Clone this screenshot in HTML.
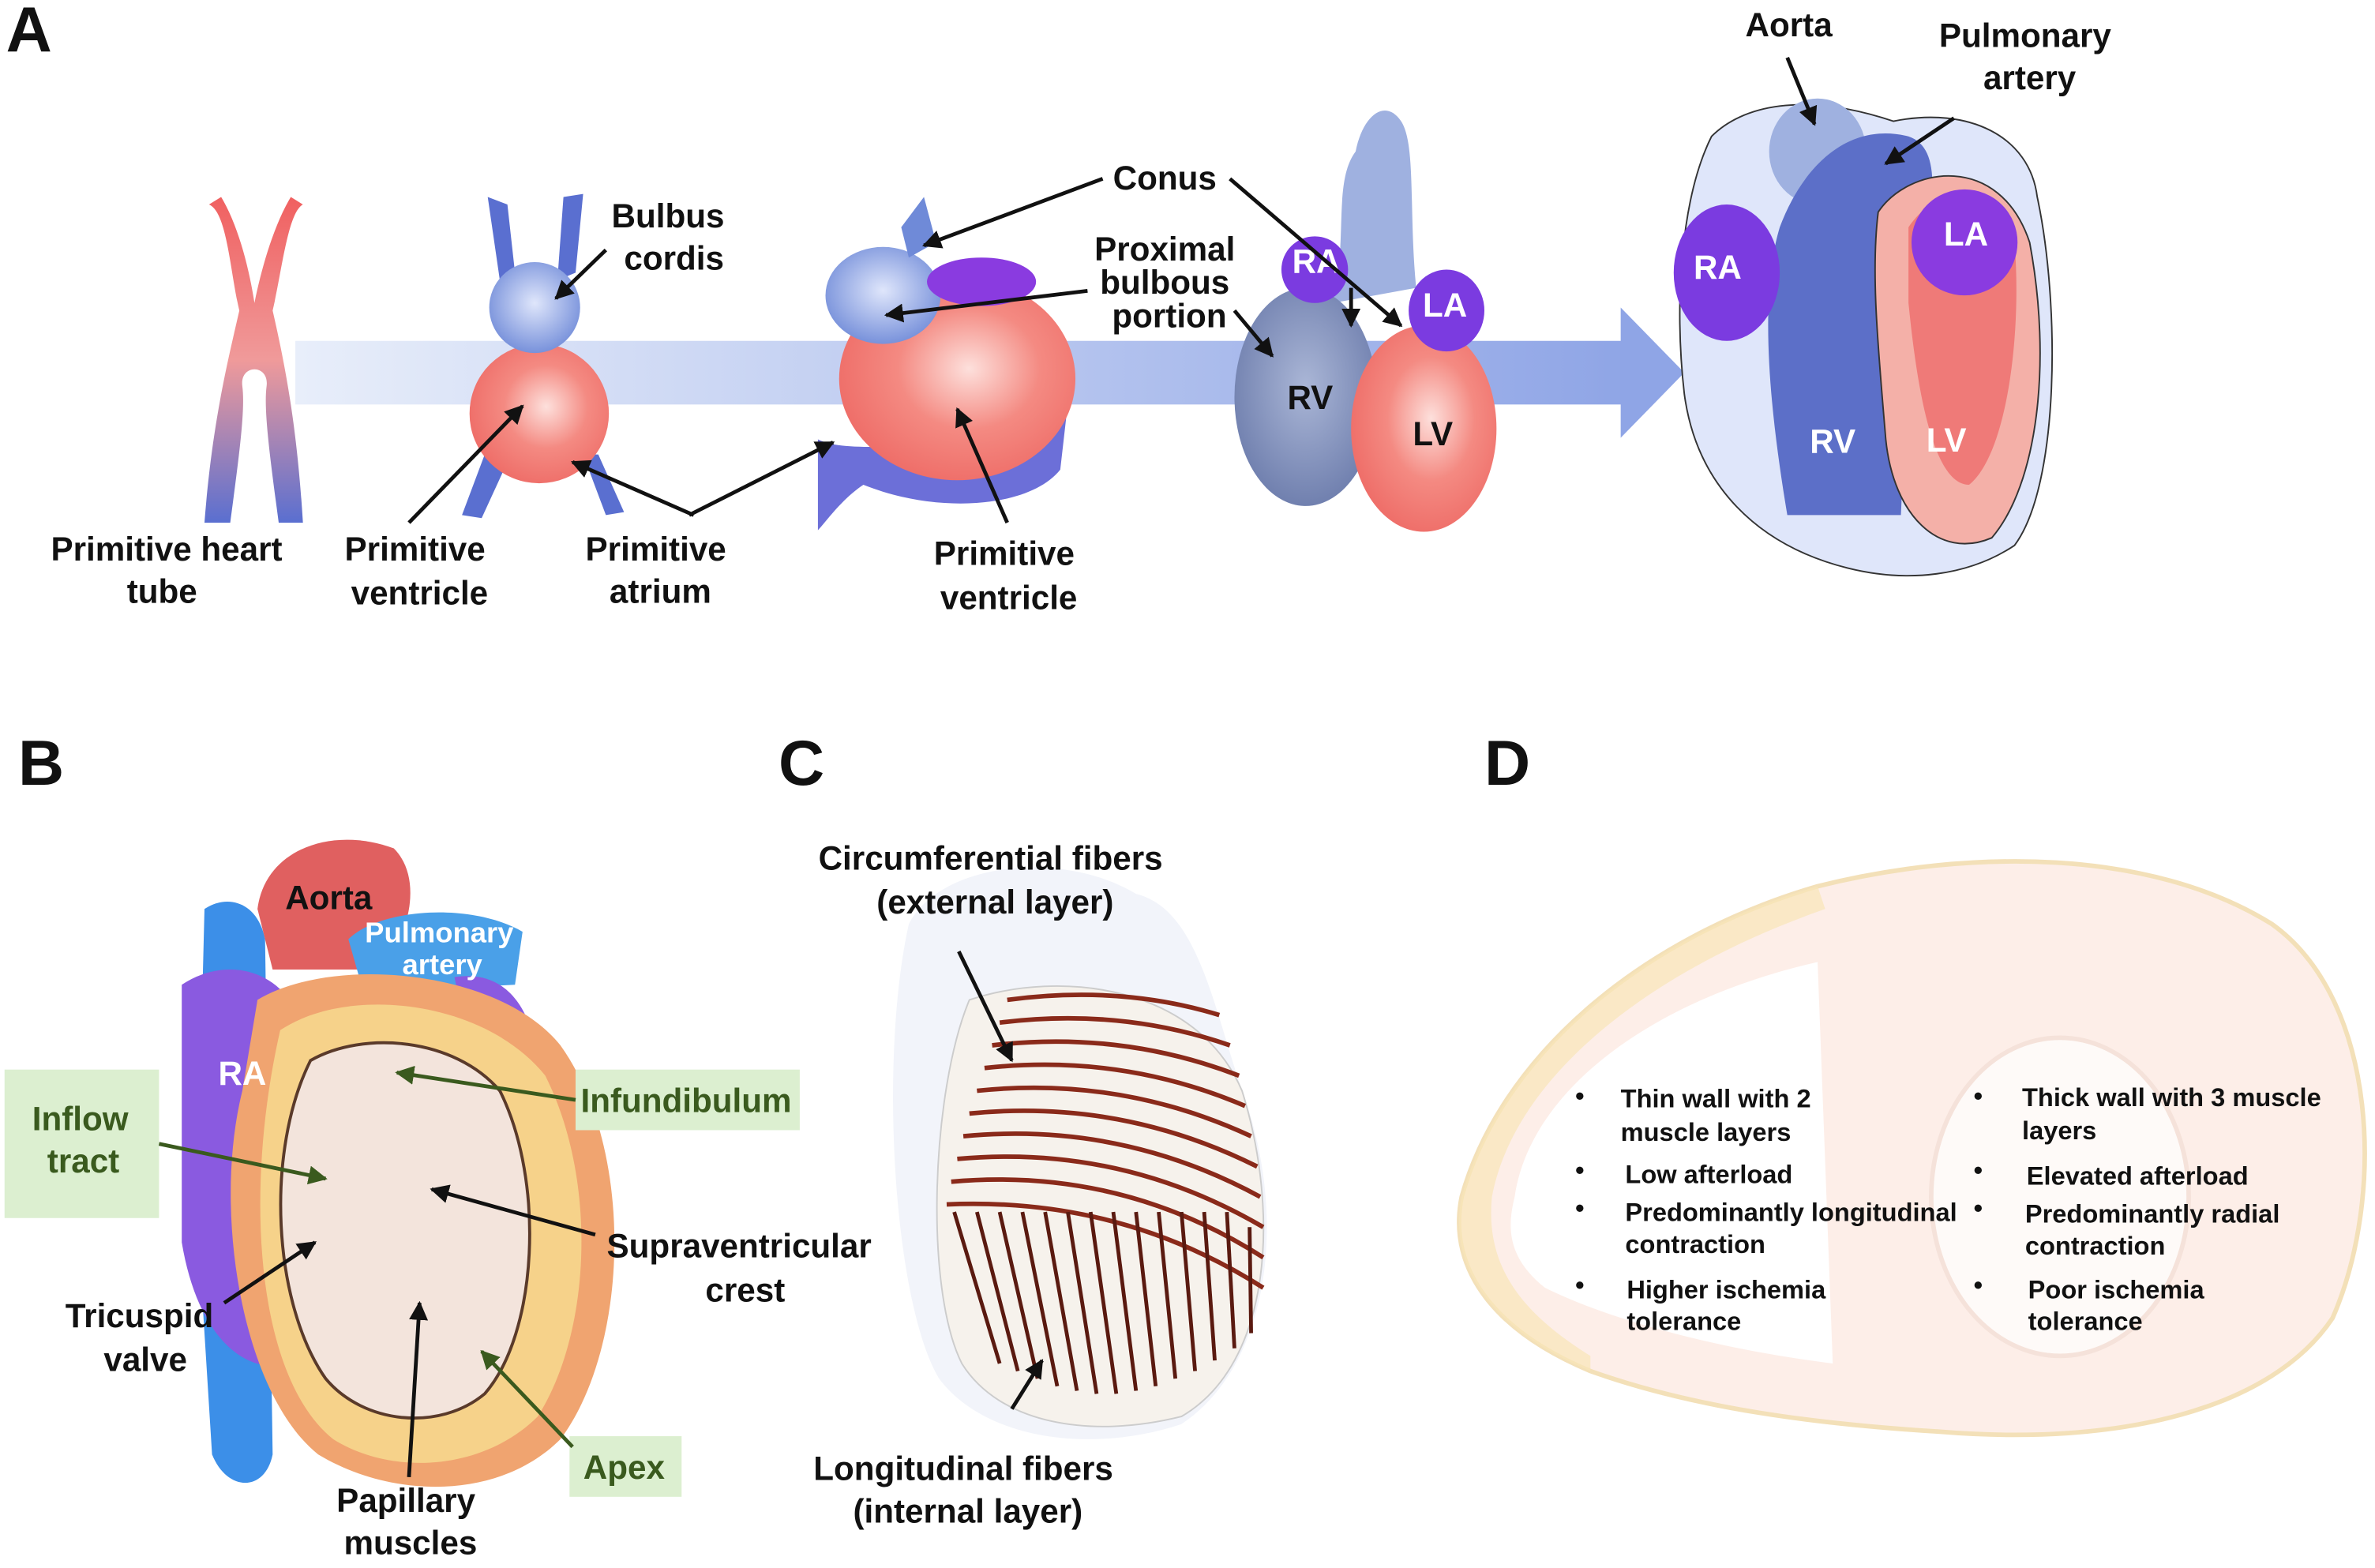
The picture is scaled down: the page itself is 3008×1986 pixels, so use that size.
<!DOCTYPE html>
<html><head><meta charset="utf-8"><style>
html,body{margin:0;padding:0;background:#fff}
svg{display:block}
text{font-family:"Liberation Sans",Arial,sans-serif;font-weight:bold;fill:#111}
</style></head><body>
<svg width="3008" height="1986" viewBox="0 0 1568 1035" preserveAspectRatio="none" xmlns="http://www.w3.org/2000/svg">
<defs>
<linearGradient id="band" x1="0" x2="1"><stop offset="0" stop-color="#e8eefa"/><stop offset="1" stop-color="#8fa5e6"/></linearGradient>
<linearGradient id="tube" x1="0" y1="0" x2="0" y2="1"><stop offset="0" stop-color="#f06060"/><stop offset="0.5" stop-color="#f09a9a"/><stop offset="1" stop-color="#5a6fd0"/></linearGradient>
<radialGradient id="sal" cx="0.55" cy="0.45" r="0.6"><stop offset="0" stop-color="#fde0dc"/><stop offset="0.5" stop-color="#f48a82"/><stop offset="1" stop-color="#ee6b66"/></radialGradient>
<radialGradient id="blu" cx="0.5" cy="0.45" r="0.6"><stop offset="0" stop-color="#dfe6fb"/><stop offset="1" stop-color="#6f8ad8"/></radialGradient>
<radialGradient id="rv" cx="0.5" cy="0.45" r="0.6"><stop offset="0" stop-color="#aab6d6"/><stop offset="1" stop-color="#6b7bab"/></radialGradient>
<marker id="ar" viewBox="0 0 10 10" refX="9" refY="5" markerWidth="5" markerHeight="5" orient="auto"><path d="M0,0L10,5L0,10z" fill="#111"/></marker>
<marker id="ag" viewBox="0 0 10 10" refX="9" refY="5" markerWidth="5" markerHeight="5" orient="auto"><path d="M0,0L10,5L0,10z" fill="#3a5a1e"/></marker>
</defs>

<text x="4" y="34" font-size="42">A</text>
<text x="12" y="518" font-size="42">B</text>
<text x="514" y="518" font-size="42">C</text>
<text x="980" y="518" font-size="42">D</text>

<rect x="195" y="225" width="880" height="42" fill="url(#band)"/>
<path d="M1070,203 L1112,246 L1070,289 Z" fill="#8fa5e6"/>

<path d="M138,135 C150,140 152,180 158,205 C150,240 140,280 135,345 L152,345 C158,300 162,270 160,255 C158,240 178,240 176,255 C174,270 178,300 184,345 L200,345 C196,280 188,240 180,205 C186,180 190,140 200,135 L192,130 C180,150 172,180 168,200 C165,180 158,150 146,130 Z" fill="url(#tube)"/>

<path d="M322,130 L335,135 L340,180 L330,185 Z" fill="#5a6fd0"/>
<path d="M372,130 L385,128 L380,180 L368,185 Z" fill="#5a6fd0"/>
<path d="M320,300 L305,340 L318,342 L335,305 Z" fill="#5a6fd0"/>
<path d="M385,300 L400,340 L412,338 L395,300 Z" fill="#5a6fd0"/>
<circle cx="356" cy="273" r="46" fill="url(#sal)"/>
<circle cx="353" cy="203" r="30" fill="url(#blu)"/>

<path d="M540,290 C560,300 600,290 650,300 C690,300 712,270 708,240 L700,310 C680,335 620,340 570,320 C555,330 545,345 540,350 Z" fill="#6c6fd8"/>
<ellipse cx="632" cy="250" rx="78" ry="67" fill="url(#sal)"/>
<ellipse cx="583" cy="195" rx="38" ry="32" fill="url(#blu)"/>
<path d="M595,150 L610,130 L618,160 L600,170 Z" fill="#6f8ad8"/>
<ellipse cx="648" cy="186" rx="36" ry="16" fill="#8a3be0"/>

<path d="M880,200 C890,160 880,120 895,100 C900,75 915,65 925,80 C935,95 930,140 935,190 Z" fill="#9fb1e0"/>
<ellipse cx="862" cy="262" rx="47" ry="72" fill="url(#rv)"/>
<ellipse cx="940" cy="283" rx="48" ry="68" fill="url(#sal)"/>
<ellipse cx="868" cy="178" rx="22" ry="22" fill="#7b3be0"/>
<ellipse cx="955" cy="205" rx="25" ry="27" fill="#7b3be0"/>

<path d="M1130,90 C1150,70 1190,60 1250,80 C1300,70 1340,90 1345,130 C1360,200 1360,320 1330,360 C1300,380 1260,385 1220,375 C1160,360 1120,320 1112,260 C1105,200 1110,130 1130,90 Z" fill="#dfe6fa" stroke="#333" stroke-width="1"/>
<ellipse cx="1200" cy="100" rx="32" ry="35" fill="#9fb1e0"/>
<path d="M1175,150 C1190,110 1220,80 1260,90 C1290,100 1270,160 1260,230 L1255,340 L1180,340 C1170,280 1160,200 1175,150 Z" fill="#5c6fc8"/>
<path d="M1240,140 C1260,110 1320,100 1340,160 C1355,240 1345,320 1315,355 C1280,370 1250,340 1245,290 C1240,230 1235,180 1240,140 Z" fill="#f4b0a8" stroke="#333" stroke-width="1"/>
<path d="M1260,150 C1280,120 1320,120 1330,160 C1335,220 1325,300 1300,320 C1275,320 1265,250 1260,200 Z" fill="#ef7a78"/>
<ellipse cx="1297" cy="160" rx="35" ry="35" fill="#8a3be0"/>
<ellipse cx="1140" cy="180" rx="35" ry="45" fill="#7b3be0"/>

<g font-size="22" text-anchor="middle">
<text x="110" y="370">Primitive heart</text><text x="107" y="398">tube</text>
<text x="441" y="150">Bulbus</text><text x="445" y="178">cordis</text>
<text x="274" y="370">Primitive</text><text x="277" y="399">ventricle</text>
<text x="433" y="370">Primitive</text><text x="436" y="398">atrium</text>
<text x="663" y="373">Primitive</text><text x="666" y="402">ventricle</text>
<text x="769" y="125">Conus</text>
<text x="769" y="172">Proximal</text><text x="769" y="194">bulbous</text><text x="772" y="216">portion</text>
<text x="1181" y="24">Aorta</text>
<text x="1337" y="31">Pulmonary</text><text x="1340" y="59">artery</text>
<text x="865" y="270">RV</text>
<text x="946" y="294">LV</text>
<text x="869" y="180" style="fill:#fff">RA</text>
<text x="954" y="209" style="fill:#fff">LA</text>
<text x="1134" y="184" style="fill:#fff">RA</text>
<text x="1298" y="162" style="fill:#fff">LA</text>
<text x="1210" y="299" style="fill:#fff">RV</text>
<text x="1285" y="298" style="fill:#fff">LV</text>
</g>
<g stroke="#111" stroke-width="2.5" fill="none" marker-end="url(#ar)">
<line x1="400" y1="165" x2="367" y2="197"/>
<line x1="270" y1="345" x2="345" y2="268"/>
<line x1="458" y1="340" x2="378" y2="305"/>
<line x1="455" y1="340" x2="550" y2="292"/>
<line x1="665" y1="345" x2="632" y2="270"/>
<line x1="728" y1="118" x2="610" y2="162"/>
<line x1="812" y1="118" x2="925" y2="215"/>
<line x1="718" y1="192" x2="585" y2="208"/>
<line x1="815" y1="205" x2="840" y2="235"/>
<line x1="892" y1="190" x2="892" y2="215"/>
<line x1="1180" y1="38" x2="1198" y2="82"/>
<line x1="1290" y1="78" x2="1245" y2="108"/>
</g>

<path d="M135,600 C150,590 170,595 175,620 L180,960 C175,985 150,985 140,960 L130,800 Z" fill="#3c8fe8"/>
<path d="M120,650 C150,630 190,640 200,680 L195,900 C160,910 130,880 120,820 Z" fill="#8a5ae0"/>
<path d="M170,600 C175,560 220,545 260,560 C280,580 270,620 250,640 L180,640 Z" fill="#e06060"/>
<path d="M230,620 C250,600 310,595 345,615 L340,650 L240,655 Z" fill="#4aa0e8"/>
<path d="M300,645 C330,640 350,660 355,700 L340,720 L310,690 Z" fill="#8a5ae0"/>
<path d="M170,660 C220,630 330,640 370,690 C420,760 415,890 370,950 C330,990 260,990 210,960 C160,920 140,800 160,720 Z" fill="#f0a470"/>
<path d="M185,680 C230,650 320,660 360,710 C395,780 390,880 355,935 C320,970 260,975 220,950 C170,910 160,790 185,680 Z" fill="#f6d28a"/>
<path d="M205,700 C240,680 300,685 330,720 C360,780 355,880 320,920 C290,945 240,940 215,910 C180,860 175,760 205,700 Z" fill="#f3e4dc" stroke="#5a3a2a" stroke-width="2"/>
<rect x="3" y="706" width="102" height="98" fill="#dcefd0"/>
<rect x="380" y="706" width="148" height="40" fill="#dcefd0"/>
<rect x="376" y="948" width="74" height="40" fill="#dcefd0"/>
<g font-size="22" text-anchor="middle">
<text x="217" y="600">Aorta</text>
<text x="290" y="622" style="fill:#fff" font-size="19">Pulmonary</text>
<text x="292" y="643" style="fill:#fff" font-size="19">artery</text>
<text x="160" y="716" style="fill:#fff">RA</text>
<text x="53" y="746" style="fill:#3a5a1e">Inflow</text><text x="55" y="774" style="fill:#3a5a1e">tract</text>
<text x="453" y="734" style="fill:#3a5a1e">Infundibulum</text>
<text x="412" y="976" style="fill:#3a5a1e">Apex</text>
<text x="488" y="830">Supraventricular</text><text x="492" y="859">crest</text>
<text x="92" y="876">Tricuspid</text><text x="96" y="905">valve</text>
<text x="268" y="998">Papillary</text><text x="271" y="1026">muscles</text>
</g>
<g stroke="#3a5a1e" stroke-width="2.5" marker-end="url(#ag)">
<line x1="105" y1="755" x2="215" y2="778"/>
<line x1="380" y1="726" x2="262" y2="708"/>
<line x1="378" y1="955" x2="318" y2="892"/>
</g>
<g stroke="#111" stroke-width="2.5" marker-end="url(#ar)">
<line x1="393" y1="815" x2="285" y2="785"/>
<line x1="148" y1="860" x2="208" y2="820"/>
<line x1="270" y1="975" x2="277" y2="860"/>
</g>

<path d="M600,610 C620,570 700,560 750,590 C790,600 800,660 820,720 C850,800 840,900 780,940 C720,960 650,950 620,910 C590,860 580,700 600,610 Z" fill="#f2f4fa"/>
<path d="M640,660 C700,640 790,650 820,720 C845,800 840,900 780,935 C720,950 660,940 635,900 C610,850 615,720 640,660 Z" fill="#f6f2ec" stroke="#ccc" stroke-width="1"/>
<g stroke="#8a2a1a" stroke-width="3" fill="none">
<path d="M665,660 Q740,650 805,670"/><path d="M660,675 Q740,665 812,690"/><path d="M655,690 Q740,680 818,710"/>
<path d="M650,705 Q740,695 822,730"/><path d="M645,720 Q740,710 826,750"/><path d="M640,735 Q740,725 830,770"/>
<path d="M636,750 Q740,740 832,790"/><path d="M632,765 Q740,755 834,810"/><path d="M628,780 Q740,770 834,830"/>
<path d="M625,795 Q740,790 834,850"/>
</g>
<g stroke="#5a1a10" stroke-width="2.5">
<line x1="630" y1="800" x2="660" y2="900"/><line x1="645" y1="800" x2="672" y2="905"/><line x1="660" y1="800" x2="685" y2="910"/>
<line x1="675" y1="800" x2="698" y2="915"/><line x1="690" y1="800" x2="711" y2="918"/><line x1="705" y1="800" x2="724" y2="920"/>
<line x1="720" y1="800" x2="737" y2="920"/><line x1="735" y1="800" x2="750" y2="918"/><line x1="750" y1="800" x2="763" y2="915"/>
<line x1="765" y1="800" x2="776" y2="910"/><line x1="780" y1="800" x2="789" y2="905"/><line x1="795" y1="800" x2="802" y2="898"/>
<line x1="810" y1="800" x2="815" y2="890"/><line x1="825" y1="810" x2="826" y2="880"/>
</g>
<g font-size="22" text-anchor="middle">
<text x="654" y="574">Circumferential fibers</text><text x="657" y="603">(external layer)</text>
<text x="636" y="977">Longitudinal fibers</text><text x="639" y="1005">(internal layer)</text>
</g>
<g stroke="#111" stroke-width="2.5" marker-end="url(#ar)">
<line x1="633" y1="628" x2="668" y2="700"/>
<line x1="668" y1="930" x2="688" y2="898"/>
</g>

<path d="M965,790 C990,700 1080,620 1200,585 C1300,560 1420,560 1500,610 C1570,660 1575,790 1540,870 C1500,930 1400,955 1280,945 C1200,940 1120,930 1050,905 C990,880 955,840 965,790 Z" fill="#fdeee8" stroke="#f3e0b8" stroke-width="3"/>
<path d="M965,790 C990,700 1080,620 1200,585 L1205,600 C1090,640 1000,710 985,790 C980,840 1010,870 1050,895 L1050,905 C990,880 955,840 965,790 Z" fill="#f8e6b8" opacity="0.7"/>
<path d="M1000,790 C1010,720 1090,660 1200,635 L1210,900 C1130,890 1060,870 1020,850 C995,830 995,810 1000,790 Z" fill="#fff"/>
<ellipse cx="1360" cy="790" rx="85" ry="105" fill="#fefaf8" stroke="#f5e2da" stroke-width="3"/>
<g font-size="17">
<text x="1040" y="729">•</text><text x="1070" y="731">Thin wall with 2</text><text x="1070" y="753">muscle layers</text>
<text x="1040" y="778">•</text><text x="1073" y="781">Low afterload</text>
<text x="1040" y="803">•</text><text x="1073" y="806">Predominantly longitudinal</text><text x="1073" y="827">contraction</text>
<text x="1040" y="854">•</text><text x="1074" y="857">Higher ischemia</text><text x="1074" y="878">tolerance</text>
<text x="1303" y="729">•</text><text x="1335" y="730">Thick wall with 3 muscle</text><text x="1335" y="752">layers</text>
<text x="1303" y="778">•</text><text x="1338" y="782">Elevated afterload</text>
<text x="1303" y="803">•</text><text x="1337" y="807">Predominantly radial</text><text x="1337" y="828">contraction</text>
<text x="1303" y="854">•</text><text x="1339" y="857">Poor ischemia</text><text x="1339" y="878">tolerance</text>
</g>
</svg>
</body></html>
